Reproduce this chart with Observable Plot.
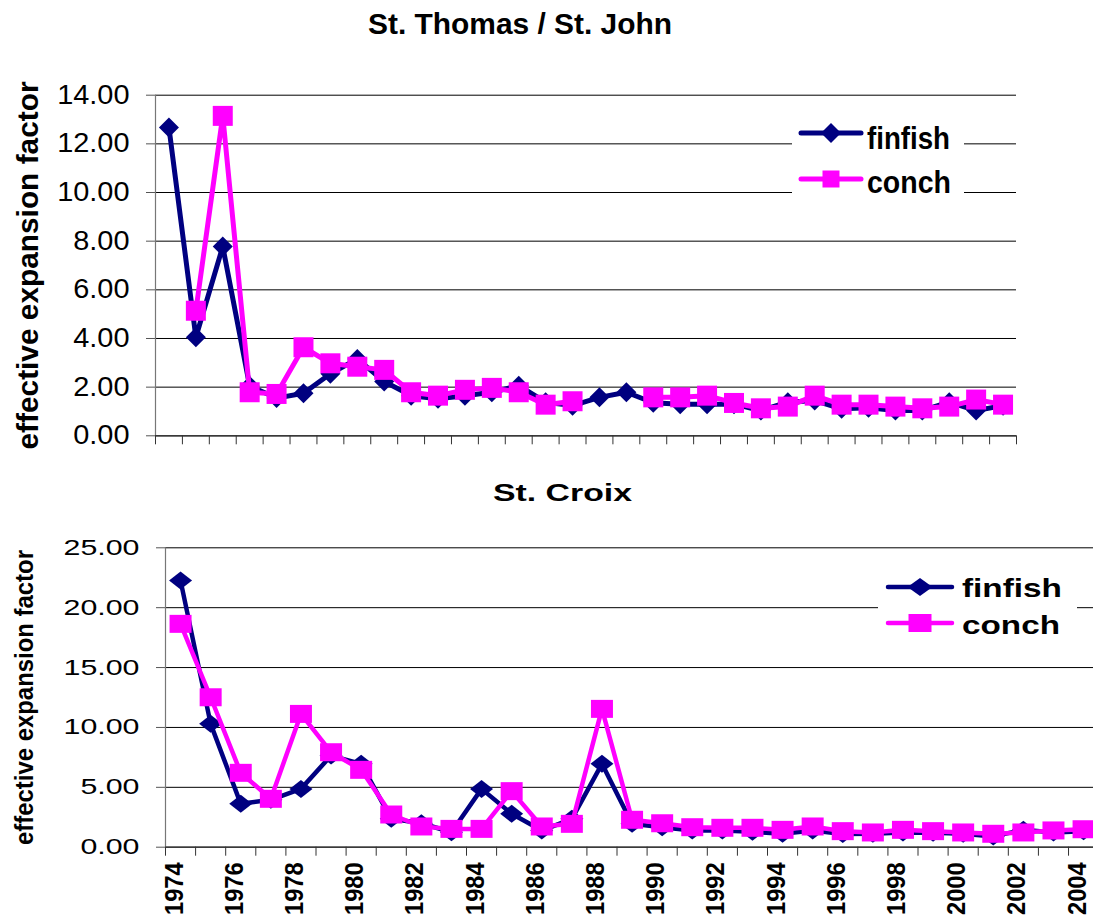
<!DOCTYPE html>
<html><head><meta charset="utf-8">
<script src="https://cdn.jsdelivr.net/npm/d3@7"></script>
<script src="https://cdn.jsdelivr.net/npm/@observablehq/plot@0.6"></script>
<style>
html,body{margin:0;padding:0;background:#fff;overflow:hidden;}
#root{position:relative;width:1093px;height:921px;font-family:"Liberation Sans",Arial,sans-serif;}
#root > svg{position:absolute;left:0;}
</style></head><body><div id="root"></div>
<script>
// ---------- data ----------
const topTitle = "St. Thomas / St. John";
const bottomTitle = "St. Croix";
const yLabel = "effective expansion factor";
const seriesNames = ["finfish", "conch"];
const seriesColors = ["#000080", "#FF00FF"];

const stYears = [1974,1975,1976,1977,1978,1979,1980,1981,1982,1983,1984,1985,1986,1987,1988,1989,
                 1990,1991,1992,1993,1994,1995,1996,1997,1998,1999,2000,2001,2002,2003,2004,2005];
const stFinfish = [12.67,4.05,7.78,2.05,1.55,1.75,2.55,3.16,2.23,1.65,1.52,1.65,1.79,2.06,1.38,1.24,
                   1.58,1.79,1.36,1.30,1.30,1.30,1.04,1.38,1.45,1.11,1.15,1.04,1.04,1.38,1.04,1.24];
const stConch = [null,5.14,13.15,1.79,1.72,3.64,2.98,2.84,2.71,1.79,1.65,1.89,1.97,1.79,1.28,1.42,
                 null,null,1.58,1.58,1.65,1.35,1.13,1.20,1.65,1.28,1.28,1.20,1.13,1.20,1.49,1.28];

const scYears = [1974,1975,1976,1977,1978,1979,1980,1981,1982,1983,1984,1985,1986,1987,1988,1989,
                 1990,1991,1992,1993,1994,1995,1996,1997,1998,1999,2000,2001,2002,2003,2004];
const scFinfish = [22.26,10.30,3.62,3.96,4.87,7.65,6.96,2.37,2.00,1.25,4.87,2.79,1.39,2.37,6.96,1.95,
                   1.67,1.40,1.40,1.28,1.12,1.40,1.10,1.12,1.23,1.20,1.12,0.90,1.45,1.23,1.34];
const scConch = [18.65,12.52,6.21,4.04,11.13,7.93,6.46,2.73,1.73,1.53,1.53,4.68,1.73,1.95,11.55,2.29,
                 2.00,1.67,1.62,1.62,1.45,1.73,1.34,1.23,1.45,1.34,1.23,1.12,1.23,1.40,1.50];

const topYTicks = [0,2,4,6,8,10,12,14];
const bottomYTicks = [0,5,10,15,20,25];
const bottomXLabels = [1974,1976,1978,1980,1982,1984,1986,1988,1990,1992,1994,1996,1998,2000,2002,2004];

// ---------- helpers ----------
const FONT = '"Liberation Sans", Arial, sans-serif';
function diamondSym(w, h) {
  return {draw(c) { c.moveTo(0, -h/2); c.lineTo(w/2, 0); c.lineTo(0, h/2); c.lineTo(-w/2, 0); c.closePath(); }};
}
function rectSym(w, h) {
  return {draw(c) { c.rect(-w/2, -h/2, w, h); }};
}
function rows(years, vals) { return years.map((y, i) => ({year: y, value: vals[i]})); }

function panel({years, finfish, conch, yTicks, yDomain, xDomain, height, mt, mb, ml, mr,
                tickFont, lw, dia, sq, xTickPos, labelFont, labelDx, extra}) {
  const f = rows(years, finfish), c = rows(years, conch);
  return Plot.plot({
    width: 1093, height,
    marginTop: mt, marginBottom: mb, marginLeft: ml, marginRight: mr,
    x: {type: "linear", domain: xDomain, label: null},
    y: {domain: yDomain, label: null},
    style: {fontFamily: FONT, fontSize: tickFont + "px", color: "#000", background: "transparent", overflow: "visible"},
    marks: [
      Plot.gridY(yTicks, {stroke: "#000", strokeOpacity: 1, strokeWidth: 1}),
      Plot.axisY(yTicks, {tickSize: 9, tickPadding: 17, tickFormat: d => d.toFixed(2), label: null, stroke: "#555"}),
      Plot.axisX(xTickPos, {tickSize: 9, tickFormat: () => "", label: null, stroke: "#333"}),
      Plot.ruleX([xDomain[0]], {stroke: "#777", strokeWidth: 1.2}),
      Plot.ruleY([0], {stroke: "#333", strokeWidth: 1.2}),
      Plot.line(f, {x: "year", y: "value", stroke: seriesColors[0], strokeWidth: lw, strokeLinejoin: "round"}),
      Plot.dot(f.filter(d => d.value != null), {x: "year", y: "value", symbol: diamondSym(dia[0], dia[1]), r: 10, fill: seriesColors[0], stroke: "none"}),
      Plot.line(c, {x: "year", y: "value", stroke: seriesColors[1], strokeWidth: lw, strokeLinejoin: "round"}),
      Plot.dot(c.filter(d => d.value != null), {x: "year", y: "value", symbol: rectSym(sq[0], sq[1]), r: 10, fill: seriesColors[1], stroke: "none"}),
      Plot.text([yLabel], {frameAnchor: "left", rotate: -90, dx: labelDx, textAnchor: "middle", lineAnchor: "middle",
                           fontSize: labelFont, fontWeight: "bold", fill: "#000"}),
      ...(extra || [])
    ]
  });
}

const root = document.getElementById("root");

// ---------- top panel ----------
const topSvg = panel({
  years: stYears, finfish: stFinfish, conch: stConch, yTicks: topYTicks, yDomain: [0, 14],
  xDomain: [1973.5, 2005.5], height: 400, mt: 34.7, mb: 24.7, ml: 155, mr: 77,
  tickFont: 27, lw: 5, dia: [20, 20], sq: [20, 20],
  xTickPos: stYears.map(y => y - 0.5).concat([stYears[stYears.length - 1] + 0.5]),
  labelFont: 30, labelDx: -127
});
topSvg.style.top = "60px";
root.appendChild(topSvg);

// ---------- bottom panel ----------
const botSvg = panel({
  years: scYears, finfish: scFinfish, conch: scConch, yTicks: bottomYTicks, yDomain: [0, 25],
  xDomain: [1973.5, 2004.33], height: 411, mt: 37.3, mb: 74.3, ml: 165, mr: 0,
  tickFont: 22, lw: 4.5, dia: [23, 18], sq: [22, 18],
  xTickPos: scYears.map(y => y - 0.5),
  labelFont: 25, labelDx: -141,
  extra: [
    Plot.text(bottomXLabels, {x: d => d, text: d => String(d), frameAnchor: "bottom", rotate: -90,
      textAnchor: "end", lineAnchor: "middle", dy: 15, dx: -6, fontSize: 25, fontWeight: "bold", fill: "#000"})
  ]
});
botSvg.style.top = "510px";
root.appendChild(botSvg);

// horizontal scaling of tick labels / axis labels (text stretched as in the original)
function stretch(el, factor) {
  const L = el.getComputedTextLength();
  el.setAttribute("textLength", L * factor);
  el.setAttribute("lengthAdjust", "spacingAndGlyphs");
}
function fitTo(el, len) {
  el.setAttribute("textLength", len);
  el.setAttribute("lengthAdjust", "spacingAndGlyphs");
}
topSvg.querySelectorAll('g[aria-label="y-axis tick label"] text').forEach(t => stretch(t, 1.07));
botSvg.querySelectorAll('g[aria-label="y-axis tick label"] text').forEach(t => stretch(t, 1.38));
topSvg.querySelectorAll('g[aria-label="text"] text').forEach(t => {
  if (t.textContent === yLabel) fitTo(t, 368);
});
botSvg.querySelectorAll('g[aria-label="text"] text').forEach(t => {
  if (t.textContent === yLabel) fitTo(t, 295);
  else stretch(t, 0.95);
});

// ---------- overlay: titles & legends ----------
const ov = d3.select(root).append("svg")
  .attr("width", 1093).attr("height", 921)
  .style("top", "0px").style("font-family", FONT);

ov.append("text").attr("x", 520).attr("y", 34).attr("text-anchor", "middle")
  .attr("font-size", 30).attr("font-weight", "bold").attr("textLength", 304).attr("lengthAdjust", "spacingAndGlyphs")
  .text(topTitle);
ov.append("text").attr("x", 562.5).attr("y", 501).attr("text-anchor", "middle")
  .attr("font-size", 24).attr("font-weight", "bold").attr("textLength", 139).attr("lengthAdjust", "spacingAndGlyphs")
  .text(bottomTitle);

function legend(g, cfg) {
  g.append("rect").attr("x", cfg.box[0]).attr("y", cfg.box[1]).attr("width", cfg.box[2]).attr("height", cfg.box[3]).attr("fill", "#fff");
  seriesNames.forEach((name, i) => {
    const y = cfg.ys[i];
    g.append("line").attr("x1", cfg.x1).attr("x2", cfg.x2).attr("y1", y).attr("y2", y)
      .attr("stroke", seriesColors[i]).attr("stroke-width", cfg.lw).attr("stroke-linecap", "round");
    const cx = (cfg.x1 + cfg.x2) / 2;
    const s = i === 0 ? diamondSym(cfg.dia[0], cfg.dia[1]) : rectSym(cfg.sq[0], cfg.sq[1]);
    const p = d3.path(); s.draw(p);
    g.append("path").attr("d", p.toString()).attr("transform", `translate(${cx},${y})`).attr("fill", seriesColors[i]);
    g.append("text").attr("x", cfg.tx).attr("y", cfg.bases[i]).attr("font-size", cfg.fs).attr("font-weight", "bold")
      .attr("textLength", cfg.lens[i]).attr("lengthAdjust", "spacingAndGlyphs").text(name);
  });
}
legend(ov.append("g"), {box: [792, 115, 172, 92], x1: 801, x2: 861, ys: [133, 179], lw: 5, dia: [20, 20], sq: [17, 17],
  tx: 867, bases: [149, 193], fs: 31, lens: [83, 84]});
legend(ov.append("g"), {box: [878, 565, 199, 90], x1: 888, x2: 952, ys: [587, 623], lw: 4.5, dia: [25, 18], sq: [23, 18],
  tx: 962, bases: [597, 634], fs: 26, lens: [100, 98]});
</script></body></html>
